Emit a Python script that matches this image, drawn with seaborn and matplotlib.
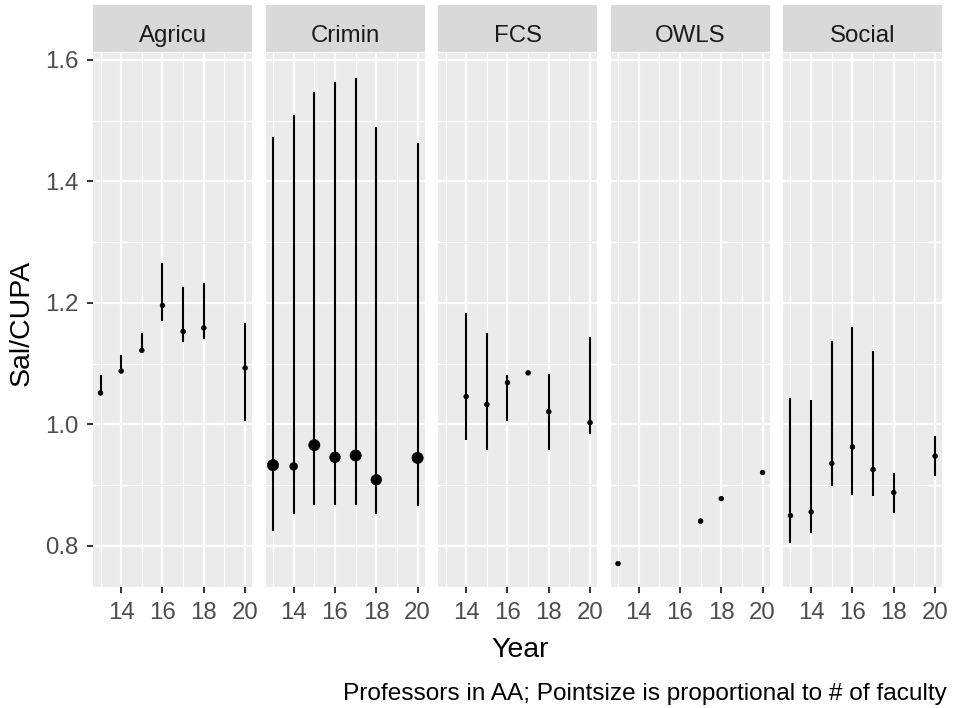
import matplotlib
matplotlib.use("Agg")
import matplotlib.pyplot as plt
from matplotlib.patches import Rectangle
import numpy as np
import pandas as pd
import seaborn as sns

# Salary / CUPA ratio by department and year (mean with low-high range)
depts = ["Agricu", "Crimin", "FCS", "OWLS", "Social"]

agricu_year = [13, 14, 15, 16, 17, 18, 20]
agricu_ratio = [1.052, 1.088, 1.122, 1.196, 1.153, 1.159, 1.093]
agricu_lo = [1.050, 1.085, 1.120, 1.171, 1.135, 1.141, 1.005]
agricu_hi = [1.081, 1.114, 1.150, 1.266, 1.227, 1.233, 1.167]
agricu_n = [1, 1, 1, 1, 1, 1, 1]

crimin_year = [13, 14, 15, 16, 17, 18, 20]
crimin_ratio = [0.933, 0.931, 0.966, 0.946, 0.949, 0.909, 0.945]
crimin_lo = [0.824, 0.852, 0.868, 0.868, 0.868, 0.852, 0.866]
crimin_hi = [1.474, 1.510, 1.547, 1.564, 1.570, 1.490, 1.464]
crimin_n = [9, 4, 9, 8, 9, 8, 9]

fcs_year = [14, 15, 16, 17, 18, 20]
fcs_ratio = [1.046, 1.033, 1.069, 1.085, 1.021, 1.003]
fcs_lo = [0.975, 0.958, 1.005, 1.085, 0.958, 0.985]
fcs_hi = [1.184, 1.151, 1.081, 1.085, 1.083, 1.144]
fcs_n = [1, 1, 1, 1, 1, 1]

owls_year = [13, 17, 18, 20]
owls_ratio = [0.771, 0.841, 0.878, 0.921]
owls_lo = [0.771, 0.841, 0.878, 0.921]
owls_hi = [0.771, 0.841, 0.878, 0.921]
owls_n = [1, 1, 1, 1]

social_year = [13, 14, 15, 16, 17, 18, 20]
social_ratio = [0.850, 0.856, 0.936, 0.963, 0.926, 0.888, 0.948]
social_lo = [0.805, 0.821, 0.898, 0.884, 0.882, 0.855, 0.915]
social_hi = [1.044, 1.041, 1.138, 1.160, 1.121, 0.920, 0.981]
social_n = [1, 1, 1, 1, 1, 1, 1]

x_ticks = [14, 16, 18, 20]
x_minor = [13, 15, 17, 19]
y_ticks = [0.8, 1.0, 1.2, 1.4, 1.6]
y_tick_labels = ["0.8", "1.0", "1.2", "1.4", "1.6"]
y_minor = [0.9, 1.1, 1.3, 1.5]

series = {
    "Agricu": (agricu_year, agricu_ratio, agricu_lo, agricu_hi, agricu_n),
    "Crimin": (crimin_year, crimin_ratio, crimin_lo, crimin_hi, crimin_n),
    "FCS": (fcs_year, fcs_ratio, fcs_lo, fcs_hi, fcs_n),
    "OWLS": (owls_year, owls_ratio, owls_lo, owls_hi, owls_n),
    "Social": (social_year, social_ratio, social_lo, social_hi, social_n),
}
frames = []
for d, (yr, r, lo, hi, n) in series.items():
    frames.append(pd.DataFrame({"dept": d, "year": yr, "ratio": r,
                                "lo": lo, "hi": hi, "n": n}))
df = pd.concat(frames, ignore_index=True)

plt.rcParams["font.family"] = ["Liberation Sans", "DejaVu Sans"]

W, H = 959, 708
TICK_FS = 17.3
TITLE_FS = 20.5


def pointrange(data, **kws):
    ax = plt.gca()
    ax.vlines(data["year"], data["lo"], data["hi"], colors="black",
              linewidth=1.5, zorder=3)
    sns.scatterplot(data=data, x="year", y="ratio", size="n",
                    sizes=(12, 66), size_norm=(1, 9), color="black",
                    edgecolor="black", linewidth=0.4, legend=False,
                    ax=ax, zorder=4)


g = sns.FacetGrid(df, col="dept", col_order=depts, sharex=True, sharey=True,
                  despine=False)
g.map_dataframe(pointrange)
g.set_axis_labels("", "")
g.set_titles("")

fig = g.figure
fig.set_size_inches(W / 100, H / 100)
fig.set_dpi(100)
fig.patch.set_facecolor("white")

left, right = 93.3, 942.3
top, bottom = 53.0, 587.0
fig.subplots_adjust(left=left / W, right=right / W, top=1 - top / H,
                    bottom=1 - bottom / H, wspace=0.0846)

panel_h = bottom - top
for i, (ax, d) in enumerate(zip(g.axes.flat, depts)):
    ax.set_facecolor("#EBEBEB")
    for s in ax.spines.values():
        s.set_visible(False)
    ax.set_xlim(12.65, 20.35)
    ax.set_ylim(0.7325, 1.6115)
    ax.set_xticks(x_ticks)
    ax.set_xticks(x_minor, minor=True)
    ax.set_yticks(y_ticks)
    ax.set_yticks(y_minor, minor=True)
    ax.set_xticklabels([str(t) for t in x_ticks])
    if i == 0:
        ax.set_yticklabels(y_tick_labels)
    ax.set_axisbelow(True)
    ax.grid(True, which="major", color="white", linewidth=1.6)
    ax.grid(True, which="minor", color="white", linewidth=0.8)
    ax.tick_params(which="major", length=4.2, width=1.4, color="#333333",
                   labelcolor="#4D4D4D", labelsize=TICK_FS, pad=6.5)
    ax.tick_params(which="minor", length=0)
    if i > 0:
        ax.tick_params(axis="y", which="both", left=False, labelleft=False)
    ax.set_xlabel("")
    ax.set_ylabel("")

    # facet strip
    y0 = 1 + 1.5 / panel_h
    y1 = 1 + 48.0 / panel_h
    ax.add_patch(Rectangle((0, y0), 1, y1 - y0, transform=ax.transAxes,
                           facecolor="#D9D9D9", edgecolor="none",
                           clip_on=False, zorder=1))
    ax.text(0.5, 1 + 11.3 / panel_h, d, transform=ax.transAxes,
            ha="center", va="baseline", fontsize=TICK_FS, color="#1A1A1A")

fig.text(22 / W, 1 - 323 / H, "Sal/CUPA", rotation=90, ha="center",
         va="center", fontsize=TITLE_FS, color="black")
fig.text(520 / W, 1 - 657 / H, "Year", ha="center", va="baseline",
         fontsize=TITLE_FS, color="black")
fig.text(946.5 / W, 1 - 700 / H,
         "Professors in AA; Pointsize is proportional to # of faculty",
         ha="right", va="baseline", fontsize=17.6, color="black")

fig.savefig("out.png", dpi=100, facecolor="white")
